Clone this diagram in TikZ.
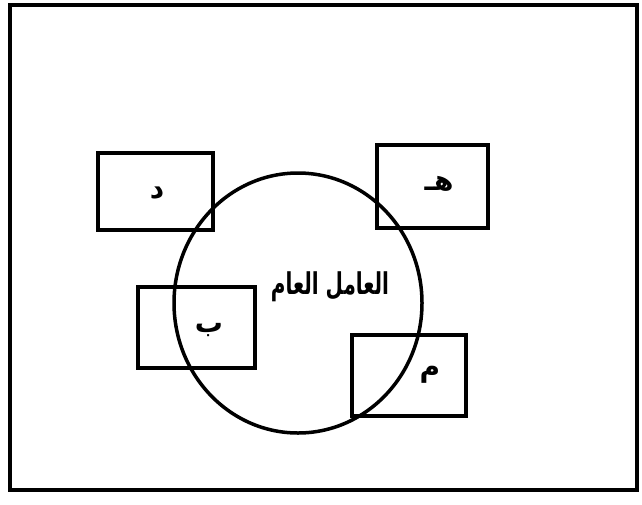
\documentclass[tikz,border=0pt]{standalone}
\usepackage{fontspec}
\usetikzlibrary{shapes.geometric}
\newfontfamily\arabicfont[Script=Arabic]{DejaVu Sans}
\TeXXeTstate=1

\begin{document}
\begin{tikzpicture}[x=1pt,y=-1pt,
    box/.style={draw,line width=4pt,inner sep=0pt},
    letter/.style={font=\arabicfont\bfseries\fontsize{28}{28}\selectfont,inner sep=0pt}]
    \useasboundingbox (0,0) rectangle (642,504);
    % Frame
    \draw[line width=4pt] (10,5) rectangle (637,490);
    % Circle
    \node[draw,ellipse,line width=3.5pt,minimum width=248pt,minimum height=260pt,inner sep=0pt] (factor) at (298,303) {};
    \node[font=\arabicfont\bfseries\fontsize{20}{20}\selectfont,inner sep=0pt] (common) at (330,287) {\scalebox{1}[1.5]{\beginR العامل العام\endR}};
    % Boxes
    \node[box,minimum width=115pt,minimum height=77pt] (d) at (155.5,191.5) {};
    \node[box,minimum width=111pt,minimum height=83pt] (h) at (432.5,186.5) {};
    \node[box,minimum width=117pt,minimum height=81pt] (b) at (196,327.5) {};
    \node[box,minimum width=114pt,minimum height=81pt] (m) at (409,375.5) {};
    % Labels
    \node[letter] (ld) at (157,193) {\beginR د\endR};
    \node[letter] (lh) at (439,184) {\beginR هـ\endR};
    \node[letter] (lb) at (209,330) {\beginR ب\endR};
    \node[letter] (lm) at (430,375) {\beginR م\endR};
\end{tikzpicture}
\end{document}
